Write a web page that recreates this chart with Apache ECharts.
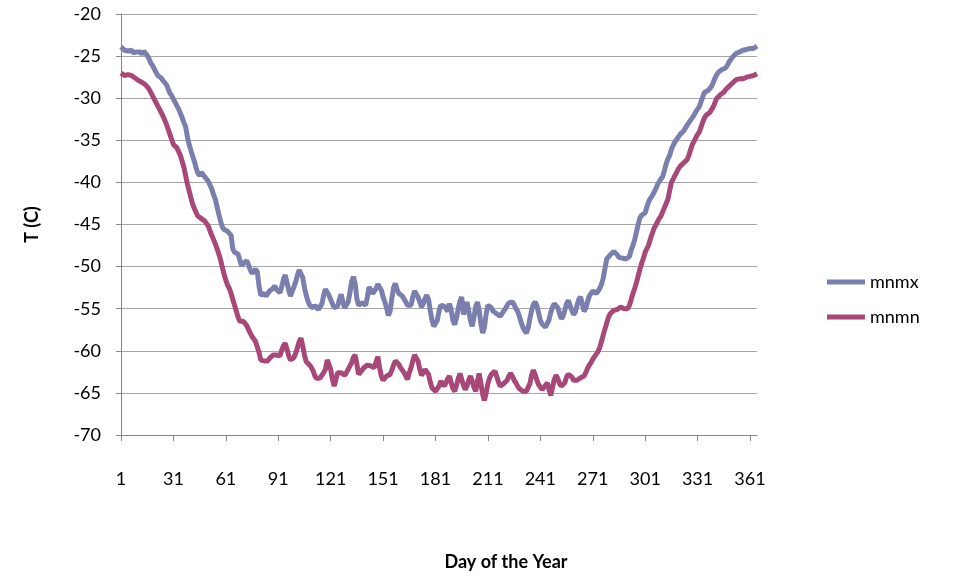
<!DOCTYPE html>
<html>
<head>
<meta charset="utf-8">
<title>mnmx / mnmn</title>
<script src="https://cdn.jsdelivr.net/npm/echarts@6/dist/echarts.min.js"></script>
<style>
    html, body { margin: 0; padding: 0; background: #fff; }
    #chart { width: 969px; height: 576px; }
</style>
</head>
<body>
<div id="chart"></div>
<script>
// 数据：每天一个值
var seriesNames = ['mnmx', 'mnmn'];
var yTicks = [-70, -65, -60, -55, -50, -45, -40, -35, -30, -25, -20];

var mnmx = [
    -23.9, -24.1, -24.3, -24.2, -24.4, -24.5, -24.3, -24.6, -24.4, -24.5,
    -24.7, -24.5, -24.8, -24.4, -24.6, -24.9, -25.3, -25.8, -26.1, -26.5,
    -26.9, -27.3, -27.5, -27.6, -27.9, -28.1, -28.4, -28.9, -29.4, -29.7,
    -30.1, -30.5, -30.9, -31.3, -31.8, -32.3, -32.9, -33.4, -34.6, -35.5,
    -36.2, -36.9, -37.5, -38.3, -38.9, -39.2, -38.8, -39.1, -39.3, -39.6,
    -39.9, -40.1, -40.8, -41.5, -42.0, -42.9, -43.8, -44.6, -45.3, -45.6,
    -45.5, -45.8, -46.0, -46.3, -47.9, -48.3, -48.2, -48.5, -49.2, -49.9,
    -49.6, -49.5, -49.3, -49.8, -50.4, -50.8, -50.6, -50.3, -50.6, -52.3,
    -53.4, -53.6, -53.2, -53.5, -53.3, -52.9, -52.7, -52.6, -52.3, -52.7,
    -52.9, -53.1, -52.4, -51.5, -51.0, -51.9, -52.8, -53.5, -52.9, -52.4,
    -51.8, -51.0, -50.4, -50.2, -51.3, -52.5, -53.4, -54.1, -54.6, -54.8,
    -54.9, -54.6, -54.8, -55.1, -55.2, -54.4, -53.4, -52.7, -52.8, -53.4,
    -53.2, -54.4, -54.9, -55.1, -54.7, -53.9, -53.3, -54.2, -54.9, -55.0,
    -54.2, -53.1, -51.8, -51.2, -52.0, -53.8, -54.6, -54.5, -54.3, -54.4,
    -54.6, -53.6, -52.4, -52.6, -53.2, -53.4, -52.6, -52.1, -51.9, -52.8,
    -53.6, -54.2, -54.9, -55.8, -55.3, -53.8, -52.5, -52.0, -52.7, -53.2,
    -53.4, -53.5, -53.7, -54.2, -54.6, -54.4, -54.6, -53.6, -52.9, -53.0,
    -53.6, -54.2, -54.8, -54.4, -53.8, -53.4, -53.9, -55.2, -56.4, -57.1,
    -57.2, -56.4, -55.3, -54.6, -54.8, -54.7, -55.0, -55.3, -54.4, -55.2,
    -56.4, -56.9, -56.1, -55.0, -54.1, -53.6, -55.7, -54.8, -54.2, -55.3,
    -56.4, -57.1, -56.0, -54.8, -54.2, -55.2, -56.8, -57.9, -57.2, -55.6,
    -54.6, -54.5, -54.9, -55.3, -55.2, -55.6, -55.8, -55.9, -55.6, -55.4,
    -55.0, -54.6, -54.3, -54.4, -54.2, -54.5, -55.0, -55.3, -55.9, -56.6,
    -57.2, -57.6, -57.9, -57.3, -56.2, -55.2, -54.5, -54.2, -54.6, -55.5,
    -56.4, -56.8, -57.0, -57.2, -57.1, -56.3, -55.4, -54.8, -54.4, -54.3,
    -54.9, -55.6, -56.2, -55.9, -55.2, -54.4, -54.0, -54.6, -55.2, -55.7,
    -55.4, -54.6, -53.9, -53.6, -54.4, -55.3, -55.0, -54.2, -53.5, -53.2,
    -52.9, -53.1, -53.2, -52.9, -52.6, -52.1, -51.4, -50.2, -49.1, -48.9,
    -48.6, -48.4, -48.2, -48.3, -48.6, -48.9, -48.8, -49.0, -49.2, -49.1,
    -49.3, -48.8, -48.0, -47.5, -46.8, -45.9, -45.0, -44.2, -43.9, -43.7,
    -43.6, -42.9, -42.3, -41.9, -41.6, -41.2, -40.8, -40.3, -39.9, -39.6,
    -39.3, -38.6, -37.8, -37.2, -36.8, -36.1, -35.6, -35.2, -34.9, -34.7,
    -34.3, -34.1, -33.9, -33.7, -33.2, -32.9, -32.6, -32.3, -32.0, -31.6,
    -31.3, -31.0, -30.4, -29.8, -29.3, -29.2, -29.1, -29.2, -28.6, -28.1,
    -27.6, -27.2, -26.9, -26.7, -26.6, -26.5, -26.4, -26.1, -25.7, -25.4,
    -25.1, -24.9, -24.7, -24.6, -24.5, -24.4, -24.3, -24.4, -24.2, -24.1,
    -24.1, -24.0, -24.1, -23.9, -23.8
];

var mnmn = [
    -27.0, -27.1, -27.3, -27.1, -27.2, -27.1, -27.3, -27.5, -27.6, -27.8,
    -27.9, -28.0, -28.1, -28.3, -28.4, -28.6, -28.9, -29.3, -29.7, -30.1,
    -30.5, -30.9, -31.3, -31.7, -32.1, -32.6, -33.1, -33.7, -34.3, -34.9,
    -35.5, -35.7, -35.9, -36.1, -36.8, -37.5, -38.2, -39.2, -40.2, -41.0,
    -41.8, -42.6, -43.1, -43.6, -44.0, -44.2, -44.3, -44.5, -44.6, -44.7,
    -45.2, -45.8, -46.3, -46.8, -47.3, -47.9, -48.5, -49.2, -50.1, -50.9,
    -51.6, -52.2, -52.6, -53.2, -53.9, -54.6, -55.3, -56.0, -56.5, -56.6,
    -56.5, -56.6, -57.0, -57.5, -57.9, -58.3, -58.6, -58.9, -59.1, -60.2,
    -61.1, -61.3, -61.2, -61.3, -61.2, -60.9, -60.7, -60.5, -60.3, -60.5,
    -60.7, -60.6, -59.9, -59.4, -59.1, -59.8, -60.6, -61.1, -60.9, -60.8,
    -60.3, -59.6, -58.9, -58.5, -59.4, -60.5, -61.3, -61.5, -61.7, -62.0,
    -62.4, -63.0, -63.3, -63.5, -63.2, -62.9, -62.6, -62.2, -61.1, -61.6,
    -62.2, -63.4, -64.2, -63.4, -62.6, -62.4, -62.6, -62.8, -62.9, -62.6,
    -62.2, -62.0, -61.4, -60.8, -60.5, -61.6, -62.8, -62.6, -62.3, -62.0,
    -61.9, -61.7, -61.5, -61.8, -62.0, -62.0, -61.3, -60.7, -62.0, -63.0,
    -63.5, -63.3, -63.0, -62.9, -62.8, -62.3, -61.7, -61.2, -61.1, -61.6,
    -62.0, -62.2, -62.6, -63.0, -63.4, -62.6, -62.0, -61.2, -60.5, -60.3,
    -61.2, -62.2, -62.9, -62.6, -62.2, -62.0, -62.8, -63.7, -64.4, -64.6,
    -64.8, -64.7, -64.2, -63.6, -63.9, -64.2, -63.8, -63.3, -63.0, -63.8,
    -64.5, -64.8, -64.1, -63.3, -62.7, -63.4, -64.1, -64.6, -64.2, -63.5,
    -63.0, -63.6, -64.3, -64.8, -63.6, -62.7, -63.9, -65.2, -65.9, -65.0,
    -63.9, -63.2, -62.8, -62.6, -62.4, -63.0, -63.7, -64.2, -64.0, -63.9,
    -63.8, -63.5, -63.0, -62.7, -63.0, -63.5, -63.8, -64.2, -64.5, -64.7,
    -64.8, -64.9, -64.8, -64.8, -63.9, -62.9, -62.3, -62.8, -63.5, -64.0,
    -64.3, -64.6, -64.6, -64.1, -63.8, -64.6, -65.3, -64.3, -63.4, -62.9,
    -63.3, -63.9, -64.2, -64.4, -63.8, -63.1, -62.8, -62.7, -63.1, -63.5,
    -63.6, -63.5, -63.3, -63.2, -63.3, -63.0, -62.6, -62.1, -61.7, -61.4,
    -61.0, -60.7, -60.4, -60.1, -59.6, -58.9, -58.1, -57.4, -56.7, -56.0,
    -55.6, -55.4, -55.2, -55.0, -55.1, -54.9, -54.8, -54.8, -55.0, -55.1,
    -55.0, -54.6, -53.9, -53.2, -52.6, -51.9, -51.1, -50.3, -49.6, -49.0,
    -48.3, -48.1, -47.4, -46.7, -46.1, -45.5, -45.1, -44.7, -44.3, -44.0,
    -43.5, -43.0, -42.5, -42.0, -41.0, -40.0, -39.6, -39.2, -38.8, -38.4,
    -38.1, -37.9, -37.7, -37.5, -37.3, -36.8, -36.1, -35.5, -35.1, -34.7,
    -34.3, -34.0, -33.4, -32.8, -32.3, -32.0, -31.8, -31.7, -31.6, -31.0,
    -30.5, -30.0, -29.8, -29.6, -29.5, -29.3, -29.0, -28.8, -28.6, -28.4,
    -28.2, -28.0, -27.8, -27.8, -27.7, -27.7, -27.7, -27.6, -27.5, -27.5,
    -27.4, -27.3, -27.3, -27.2, -27.1
];

// x 轴类目：第 1 天到第 365 天
var days = [];
for (var i = 0; i < mnmx.length; i++) {
    days.push(String(i + 1));
}

initChart();

// 渲染折线图
function initChart() {
    var myChart = echarts.init(document.getElementById('chart'));
    var font = 'Lato, "Open Sans", sans-serif';
    var option = {
        color: ['#7b7fae', '#a84878'],
        animation: false,
        grid: {
            left: 121,
            right: 212,
            top: 14,
            bottom: 139
        },
        legend: {
            orient: 'vertical',
            left: 822,
            top: 268,
            itemGap: 17,
            itemWidth: 38,
            itemHeight: 5,
            icon: 'rect',
            data: seriesNames,
            textStyle: {
                fontFamily: font,
                fontSize: 18,
                color: '#000'
            }
        },
        xAxis: {
            type: 'category',
            boundaryGap: false,
            data: days,
            name: 'Day of the Year',
            nameLocation: 'middle',
            nameGap: 118,
            nameTextStyle: {
                fontFamily: font,
                fontSize: 18,
                fontWeight: 'bold',
                color: '#000',
                padding: [0, 0, 0, 134]
            },
            axisLine: {
                lineStyle: { color: '#868686', width: 1 }
            },
            axisTick: {
                interval: 29,
                length: 6,
                lineStyle: { color: '#868686' }
            },
            axisLabel: {
                interval: 29,
                margin: 35,
                fontFamily: font,
                fontSize: 18,
                color: '#000'
            },
            splitLine: { show: false }
        },
        yAxis: {
            type: 'value',
            min: yTicks[0],
            max: yTicks[yTicks.length - 1],
            interval: 5,
            name: 'T (C)',
            nameLocation: 'middle',
            nameRotate: 90,
            nameGap: 80,
            nameTextStyle: {
                fontFamily: font,
                fontSize: 18,
                fontWeight: 'bold',
                color: '#000'
            },
            axisLine: {
                show: true,
                lineStyle: { color: '#868686', width: 1 }
            },
            axisTick: {
                show: true,
                length: 5,
                lineStyle: { color: '#868686' }
            },
            axisLabel: {
                margin: 20,
                fontFamily: font,
                fontSize: 18,
                color: '#000'
            },
            splitLine: {
                lineStyle: { color: '#a6a6a6', width: 1 }
            }
        },
        series: [{
                name: seriesNames[0],
                type: 'line',
                data: mnmx,
                symbol: 'none',
                lineStyle: { width: 5 }
            },
            {
                name: seriesNames[1],
                type: 'line',
                data: mnmn,
                symbol: 'none',
                lineStyle: { width: 5 }
            }
        ]
    };
    myChart.setOption(option);
}
</script>
</body>
</html>
